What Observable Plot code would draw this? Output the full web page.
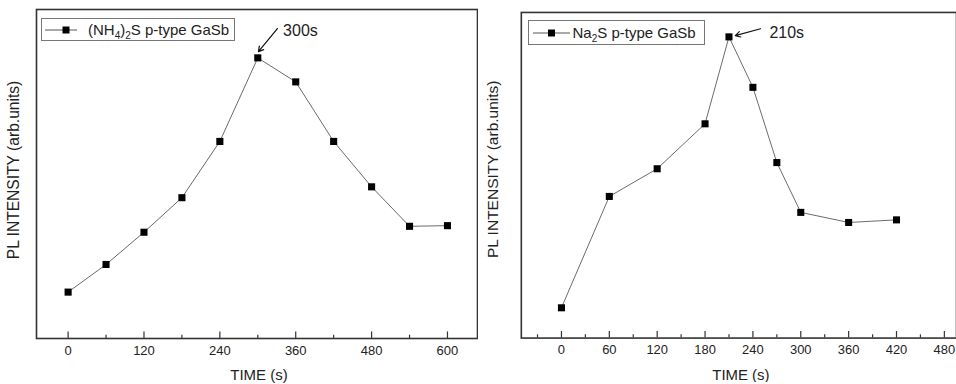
<!DOCTYPE html>
<html><head><meta charset="utf-8">
<script src="https://cdn.jsdelivr.net/npm/d3@7"></script>
<script src="https://cdn.jsdelivr.net/npm/@observablehq/plot@0.6"></script>
<style>
body{margin:0;background:#fff;font-family:"Liberation Sans",Arial,sans-serif;}
#wrap{display:flex;width:956px;height:384px;}
.panel{position:relative;width:478px;height:384px;overflow:hidden;}
.legend{position:absolute;box-sizing:border-box;border:1px solid #777;background:#fff;font-size:15px;color:#222;display:flex;align-items:center;white-space:nowrap;}
.legend sub{font-size:10px;line-height:0;vertical-align:-4px;}
</style></head><body>
<div id="wrap"><div class="panel" id="p1"></div><div class="panel" id="p2"></div></div>
<script>
// Left panel: (NH4)2S treatment
const nh4Time = [0, 60, 120, 180, 240, 300, 360, 420, 480, 540, 600];
const nh4PL   = [14.1, 22.5, 32.3, 42.8, 59.9, 85.3, 78.0, 59.9, 46.1, 34.1, 34.3];
const nh4MajorTicks = [0, 120, 240, 360, 480, 600];
const nh4MinorTicks = [60, 180, 300, 420, 540];
const nh4Note = [{label: "300s", tx: 340, ty: 93.6, x1: 331, y1: 94.2, x2: 301, y2: 87.2}];

// Right panel: Na2S treatment
const na2Time = [0, 60, 120, 180, 210, 240, 270, 300, 360, 420];
const na2PL   = [9.3, 43.5, 52.0, 65.8, 92.5, 77.0, 53.9, 38.6, 35.5, 36.3];
const na2MajorTicks = [0, 60, 120, 180, 240, 300, 360, 420, 480];
const na2MinorTicks = [-30, 30, 90, 150, 210, 270, 330, 390, 450];
const na2Note = [{label: "210s", tx: 260.7, ty: 93.8, x1: 249.5, y1: 95.0, x2: 218, y2: 92.9}];

const yLabel = "PL INTENSITY (arb.units)";
const xLabel = "TIME (s)";

function panel({time, pl, major, minor, note, width, marginLeft, marginRight, marginTop, marginBottom, xDomain, yLabelDx, yLabelDy, xLabelDx}) {
  const data = time.map((t, i) => ({t, v: pl[i]}));
  return Plot.plot({
    width, height: 384, marginLeft, marginRight, marginTop, marginBottom,
    style: {fontFamily: "Liberation Sans, Arial, sans-serif", color: "#222", background: "#fff"},
    x: {domain: xDomain, axis: null},
    y: {domain: [0, 100], axis: null},
    marks: [
      Plot.axisX({ticks: major, tickSize: 0, tickPadding: 7, fontSize: 13, label: null, tickFormat: d => String(d)}),
      Plot.ruleX(major, {x: d => d, y1: 0, y2: 2, stroke: "#333", strokeWidth: 1.2}),
      Plot.ruleX(minor, {x: d => d, y1: 0, y2: 1, stroke: "#333", strokeWidth: 1.2}),
      Plot.line(data, {x: "t", y: "v", stroke: "#6a6a6a", strokeWidth: 1}),
      Plot.dot(data, {x: "t", y: "v", symbol: "square", r: 4, fill: "#000", stroke: "none"}),
      Plot.arrow(note, {x1: "x1", y1: "y1", x2: "x2", y2: "y2", stroke: "#111", strokeWidth: 1.2, headLength: 7, bend: 0}),
      Plot.text(note, {x: "tx", y: "ty", text: "label", textAnchor: "start", fontSize: 16, fill: "#222"}),
      Plot.text([yLabel], {frameAnchor: "left", rotate: -90, textAnchor: "middle", lineAnchor: "middle", dx: yLabelDx, dy: yLabelDy, fontSize: 15.6, fill: "#222"}),
      Plot.text([xLabel], {frameAnchor: "bottom", textAnchor: "middle", lineAnchor: "middle", dy: 37, dx: xLabelDx, fontSize: 15, fill: "#222"}),
      Plot.frame({stroke: "#333", strokeWidth: 1.6})
    ]
  });
}

function legend(parent, {left, top, width, height, padL, symW, sqX, gap, html}) {
  const div = document.createElement("div");
  div.className = "legend";
  Object.assign(div.style, {left: left + "px", top: top + "px", width: width + "px", height: height + "px", paddingLeft: padL + "px"});
  div.innerHTML = `<svg width="${symW}" height="12" style="margin-right:${gap}px;flex:none"><line x1="0" y1="6" x2="${symW}" y2="6" stroke="#555" stroke-width="1"/><rect x="${sqX}" y="2.5" width="7" height="7" fill="#000"/></svg><span>${html}</span>`;
  parent.appendChild(div);
}

const p1 = document.getElementById("p1");
p1.appendChild(panel({time: nh4Time, pl: nh4PL, major: nh4MajorTicks, minor: nh4MinorTicks, note: nh4Note,
  width: 478, marginLeft: 36, marginRight: 1, marginTop: 9, marginBottom: 46, xDomain: [-50, 647.5], yLabelDx: -23, yLabelDy: -4, xLabelDx: 2}));
legend(p1, {left: 41, top: 18, width: 194, height: 23, padL: 3, symW: 32, sqX: 17.5, gap: 11, html: "(NH<sub>4</sub>)<sub>2</sub>S p-type GaSb"});

const p2 = document.getElementById("p2");
p2.appendChild(panel({time: na2Time, pl: na2PL, major: na2MajorTicks, minor: na2MinorTicks, note: na2Note,
  width: 480, marginLeft: 43, marginRight: 0, marginTop: 12, marginBottom: 45, xDomain: [-50.3, 495.2], yLabelDx: -28, yLabelDy: -6, xLabelDx: 2}));
legend(p2, {left: 50, top: 20, width: 177, height: 25, padL: 3.5, symW: 37, sqX: 15, gap: 3, html: "Na<sub>2</sub>S p-type GaSb"});
</script>
</body></html>
